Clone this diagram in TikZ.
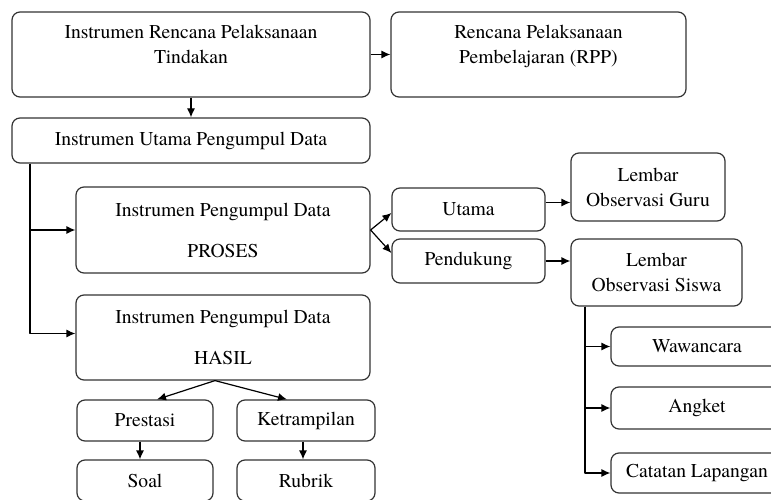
\documentclass[tikz,border=0pt]{standalone}
\usepackage{fontspec}
\setmainfont{texgyretermes}[Extension=.otf,UprightFont=*-regular,BoldFont=*-bold]
\usetikzlibrary{arrows.meta}
\definecolor{garis}{HTML}{333333}
\tikzset{
	kotak/.style={draw=garis,line width=1.2pt,rounded corners=8pt,inner sep=0pt,align=center,font=\fontsize{19.6}{25}\selectfont},
	panah/.style={->,line width=1.2pt}
}
\begin{document}
\begin{tikzpicture}[x=1pt,y=-1pt,>={Latex[length=9pt,width=8pt]},line join=round]
	\useasboundingbox (0,0) rectangle (771,500);
	\clip (0,0) rectangle (771,500);
	% baris atas
	\node[kotak,minimum width=358pt,minimum height=85pt,text depth=20pt] (irpt) at (191,54.5) {Instrumen Rencana Pelaksanaan\\Tindakan};
	\node[kotak,minimum width=295pt,minimum height=85pt,text depth=20pt] (rpp) at (538.5,54.5) {Rencana Pelaksanaan\\Pembelajaran (RPP)};
	\node[kotak,minimum width=358pt,minimum height=45pt] (iupd) at (191,140.5) {Instrumen Utama Pengumpul Data};
	% proses dan hasil
	\node[kotak,minimum width=294pt,minimum height=86pt] (proses) at (223,230) {Instrumen Pengumpul Data\\[16pt]PROSES};
	\node[kotak,minimum width=294pt,minimum height=85pt] (hasil) at (223,337.5) {Instrumen Pengumpul Data\\[16pt]HASIL};
	\node[kotak,minimum width=153pt,minimum height=43pt] (utama) at (468.5,209.5) {Utama};
	\node[kotak,minimum width=153pt,minimum height=44pt] (pendukung) at (468.5,261) {Pendukung};
	\node[kotak,minimum width=154pt,minimum height=68pt] (guru) at (648,187) {Lembar\\Observasi Guru};
	\node[kotak,minimum width=171pt,minimum height=67pt] (siswa) at (656.5,272.5) {Lembar\\Observasi Siswa};
	% pendukung lain
	\node[kotak,minimum width=172pt,minimum height=39pt] (wawancara) at (697,346.5) {Wawancara};
	\node[kotak,minimum width=172pt,minimum height=42pt] (angket) at (697,408) {Angket};
	\node[kotak,minimum width=172pt,minimum height=40pt] (catatan) at (697,473) {Catatan Lapangan};
	% hasil
	\node[kotak,minimum width=136pt,minimum height=41pt] (prestasi) at (145,420.5) {Prestasi};
	\node[kotak,minimum width=138pt,minimum height=41pt] (ketrampilan) at (306,420.5) {Ketrampilan};
	\node[kotak,minimum width=136pt,minimum height=41pt] (soal) at (145,480.5) {Soal};
	\node[kotak,minimum width=138pt,minimum height=41pt] (rubrik) at (306,480.5) {Rubrik};
	\coordinate (batang) at (30,0);
	\coordinate (batangb) at (585,0);
	% panah
	\draw[panah] (irpt.east) -- (rpp.west);
	\draw[panah] (irpt.south) -- (iupd.north);
	\draw[panah] (iupd.south -| batang) |- (proses.west);
	\draw[panah] (iupd.south -| batang) |- ([yshift=4pt]hasil.west);
	\draw[panah] (proses.east) -- ([yshift=-3.5pt]utama.west);
	\draw[panah] (proses.east) -- ([yshift=8pt]pendukung.west);
	\draw[panah] ([yshift=7pt]utama.east) -- ([yshift=7pt]utama.east -| guru.west);
	\draw[panah] (pendukung.east) -- (pendukung.east -| siswa.west);
	\foreach \n in {wawancara,angket,catatan}{
		\draw[panah] (siswa.south -| batangb) |- (\n.west);
	}
	\draw[panah] ([xshift=-8pt]hasil.south) -- ([xshift=12pt]prestasi.north);
	\draw[panah] ([xshift=-8pt]hasil.south) -- ([xshift=-19pt]ketrampilan.north);
	\draw[panah] ([xshift=-5pt]prestasi.south) -- ([xshift=-5pt]soal.north);
	\draw[panah] ([xshift=-3pt]ketrampilan.south) -- ([xshift=-3pt]rubrik.north);
\end{tikzpicture}
\end{document}
